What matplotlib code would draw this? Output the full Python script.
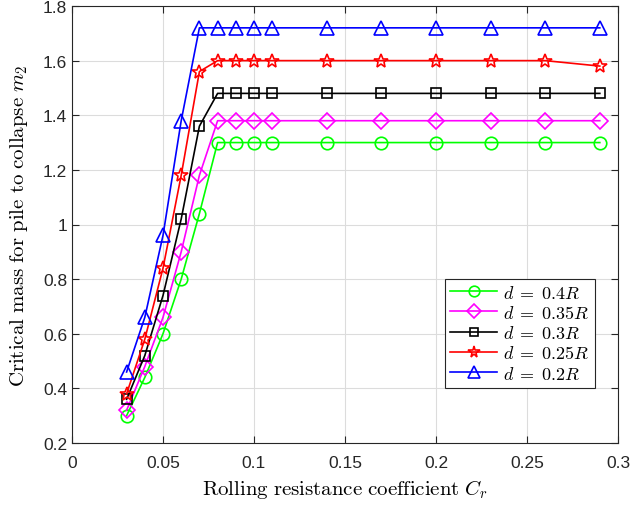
import matplotlib
matplotlib.use("Agg")
import matplotlib.pyplot as plt
from matplotlib.ticker import FuncFormatter

plt.rcParams['mathtext.fontset'] = 'cm'
plt.rcParams['font.family'] = ['Liberation Sans', 'DejaVu Sans']

cr = [0.03, 0.04, 0.05, 0.06, 0.07, 0.08, 0.09, 0.10, 0.11, 0.14, 0.17, 0.20, 0.23, 0.26, 0.29]
m_04R = [0.30, 0.44, 0.60, 0.80, 1.04, 1.30, 1.30, 1.30, 1.30, 1.30, 1.30, 1.30, 1.30, 1.30, 1.30]
m_035R = [0.32, 0.48, 0.66, 0.90, 1.18, 1.38, 1.38, 1.38, 1.38, 1.38, 1.38, 1.38, 1.38, 1.38, 1.38]
m_03R = [0.36, 0.52, 0.74, 1.02, 1.36, 1.48, 1.48, 1.48, 1.48, 1.48, 1.48, 1.48, 1.48, 1.48, 1.48]
m_025R = [0.38, 0.58, 0.84, 1.18, 1.56, 1.60, 1.60, 1.60, 1.60, 1.60, 1.60, 1.60, 1.60, 1.60, 1.58]
m_02R = [0.46, 0.66, 0.96, 1.38, 1.72, 1.72, 1.72, 1.72, 1.72, 1.72, 1.72, 1.72, 1.72, 1.72, 1.72]

labels = [r'$d\;=\;0.4R$', r'$d\;=\;0.35R$', r'$d\;=\;0.3R$', r'$d\;=\;0.25R$', r'$d\;=\;0.2R$']
series = [m_04R, m_035R, m_03R, m_025R, m_02R]
colors = ['#00ff00', '#ff00ff', '#000000', '#ff0000', '#0000ff']
markers = ['o', 'D', 's', '*', '^']
msizes = [9, 8, 7, 10, 10]

fig = plt.figure(figsize=(6.31, 5.06), dpi=100)
ax = fig.add_axes([72/631, 1-444/506, (618-72)/631, (444-7)/506])

for y, lab, c, mk, ms in zip(series, labels, colors, markers, msizes):
    ax.plot(cr, y, color=c, marker=mk, markersize=ms, markerfacecolor='none',
            markeredgecolor=c, markeredgewidth=1.2, linewidth=1.2, label=lab)

ax.set_xlim(0, 0.3)
ax.set_ylim(0.2, 1.8)
ax.set_xticks([0, 0.05, 0.1, 0.15, 0.2, 0.25, 0.3])
ax.set_yticks([0.2, 0.4, 0.6, 0.8, 1.0, 1.2, 1.4, 1.6, 1.8])
fmt = FuncFormatter(lambda v, p: '%g' % round(v, 4))
ax.xaxis.set_major_formatter(fmt)
ax.yaxis.set_major_formatter(fmt)
ax.grid(True, color='#dcdcdc', linewidth=0.8)
ax.set_axisbelow(True)
for s in ax.spines.values():
    s.set_color('#262626')
    s.set_linewidth(0.8)
ax.tick_params(direction='in', length=5, colors='#262626', labelsize=12.5, top=True, right=True,
               labelcolor='#262626')
ax.tick_params(axis='x', pad=9)

ax.set_xlabel(r'$\mathrm{Rolling\ resistance\ coefficient}\ C_r$', fontsize=15, labelpad=5)
ax.set_ylabel(r'$\mathrm{Critical\ mass\ for\ pile\ to\ collapse}\ m_2$', fontsize=15, labelpad=9)

handles, labs = ax.get_legend_handles_labels()
leg = ax.legend(handles, labs, loc='lower right', bbox_to_anchor=(0.957, 0.126), fontsize=13,
                frameon=True, fancybox=False, edgecolor='#262626', framealpha=1, handlelength=2.6,
                borderpad=0.3, labelspacing=0.18, handletextpad=0.3, borderaxespad=0,
                markerscale=0.85)
leg.get_frame().set_linewidth(0.8)

fig.savefig('out.png', dpi=100)
